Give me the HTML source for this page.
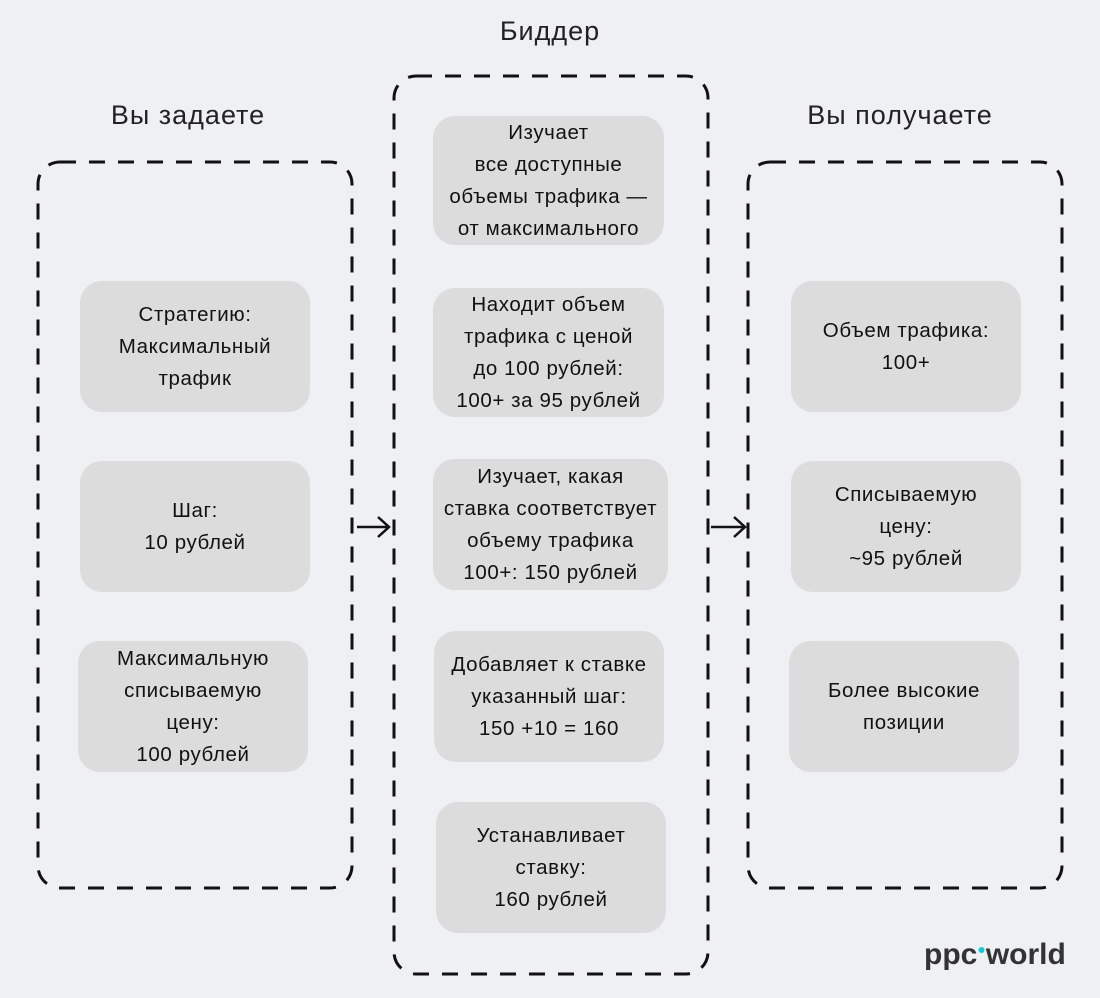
<!DOCTYPE html>
<html><head><meta charset="utf-8"><style>
body{margin:0;width:1100px;height:998px;background:#eff0f4;position:relative;overflow:hidden;font-family:"Liberation Sans","Noto Sans CJK SC",sans-serif;color:#111}
.t{position:absolute;font-size:27px;letter-spacing:1px;text-align:center;width:300px;color:#222}
.b{position:absolute;background:#dcdcdc;border-radius:22px;display:flex;align-items:center;justify-content:center;text-align:center;font-size:20.5px;letter-spacing:0.6px;line-height:32px;color:#111;white-space:nowrap}
svg{position:absolute;left:0;top:0}
.logo{position:absolute;left:924px;top:938px;font-size:30px;font-weight:bold;color:#333}
</style></head><body>
<svg width="1100" height="998">
<g fill="none" stroke="#111" stroke-width="3" stroke-dasharray="16 13">
<rect x="38" y="162" width="314" height="726" rx="22"/>
<rect x="394" y="76" width="314" height="898" rx="22"/>
<rect x="748" y="162" width="314" height="726" rx="22"/>
</g>
<g fill="none" stroke="#111" stroke-width="2.5">
<path d="M357 527H389M378 517L389 527L378 537"/>
<path d="M711 527H745M734 517L745 527L734 537"/>
</g>
</svg>
<div class="t" style="left:38px;top:100px">Вы задаете</div>
<div class="t" style="left:400px;top:16px">Биддер</div>
<div class="t" style="left:750px;top:100px">Вы получаете</div>

<div class="b" style="left:80px;top:281px;width:230px;height:131px">Стратегию:<br>Максимальный<br>трафик</div>
<div class="b" style="left:80px;top:461px;width:230px;height:131px">Шаг:<br>10 рублей</div>
<div class="b" style="left:78px;top:641px;width:230px;height:131px">Максимальную<br>списываемую<br>цену:<br>100 рублей</div>

<div class="b" style="left:433px;top:116px;width:231px;height:129px">Изучает<br>все доступные<br>объемы трафика —<br>от максимального</div>
<div class="b" style="left:433px;top:288px;width:231px;height:129px">Находит объем<br>трафика с ценой<br>до 100 рублей:<br>100+ за 95 рублей</div>
<div class="b" style="left:433px;top:459px;width:235px;height:131px">Изучает, какая<br>ставка соответствует<br>объему трафика<br>100+: 150 рублей</div>
<div class="b" style="left:434px;top:631px;width:230px;height:131px">Добавляет к ставке<br>указанный шаг:<br>150 +10 = 160</div>
<div class="b" style="left:436px;top:802px;width:230px;height:131px">Устанавливает<br>ставку:<br>160 рублей</div>

<div class="b" style="left:791px;top:281px;width:230px;height:131px">Объем трафика:<br>100+</div>
<div class="b" style="left:791px;top:461px;width:230px;height:131px">Списываемую<br>цену:<br>~95 рублей</div>
<div class="b" style="left:789px;top:641px;width:230px;height:131px">Более высокие<br>позиции</div>

<div class="logo">ppc<span style="color:#1cc8d0;font-size:14px;vertical-align:10px">●</span>world</div>
</body></html>
